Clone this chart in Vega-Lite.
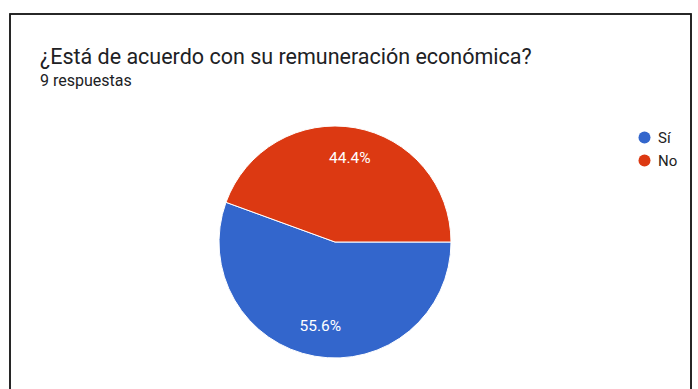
{
  "$schema": "https://vega.github.io/schema/vega-lite/v6.json",
  "autosize": "none",
  "width": 681,
  "height": 381,
  "padding": {"left": 10, "top": 14, "right": 7, "bottom": -6},
  "background": "white",
  "config": {
    "view": {"stroke": null},
    "font": "Roboto"
  },
  "title": {
    "text": "¿Está de acuerdo con su remuneración económica?",
    "subtitle": "9 respuestas",
    "anchor": "start",
    "frame": "group",
    "orient": "top",
    "dx": 30,
    "dy": 80,
    "font": "Roboto",
    "fontSize": 21.5,
    "fontWeight": "normal",
    "color": "#202124",
    "subtitleFont": "Roboto",
    "subtitleFontSize": 16,
    "subtitleColor": "#202124",
    "subtitlePadding": 5
  },
  "data": {
    "values": [
      {"respuesta": "Sí", "cantidad": 5, "proporcion": 0.556},
      {"respuesta": "No", "cantidad": 4, "proporcion": 0.444}
    ]
  },
  "layer": [
    {
      "mark": {"type": "rect", "fill": null, "stroke": "#1a1a1a", "strokeWidth": 1.5},
      "encoding": {}
    },
    {
      "mark": {"type": "arc", "radius": 116, "stroke": "white", "strokeWidth": 1, "xOffset": -15.5, "yOffset": 37.5},
      "encoding": {
        "theta": {"field": "cantidad", "type": "quantitative", "stack": true, "scale": {"range": [1.5708, 7.854]}},
        "order": {"field": "respuesta", "sort": "descending"},
        "color": {
          "field": "respuesta",
          "type": "nominal",
          "scale": {"domain": ["Sí", "No"], "range": ["#3366cc", "#dc3912"]},
          "legend": {
            "title": null,
            "orient": "none",
            "legendX": 627,
            "legendY": 116,
            "symbolType": "circle",
            "symbolSize": 144,
            "symbolStrokeWidth": 0,
            "labelFont": "Roboto",
            "labelFontSize": 15,
            "labelColor": "#222222",
            "rowPadding": 7,
            "labelOffset": 6
          }
        }
      }
    },
    {
      "mark": {"type": "text", "radius": 85, "fontSize": 15.5, "font": "Roboto", "color": "white", "xOffset": -15.5, "yOffset": 37.5},
      "encoding": {
        "theta": {"field": "cantidad", "type": "quantitative", "stack": true, "scale": {"range": [1.5708, 7.854]}},
        "order": {"field": "respuesta", "sort": "descending"},
        "text": {"field": "proporcion", "type": "quantitative", "format": ".1%"}
      }
    }
  ]
}
